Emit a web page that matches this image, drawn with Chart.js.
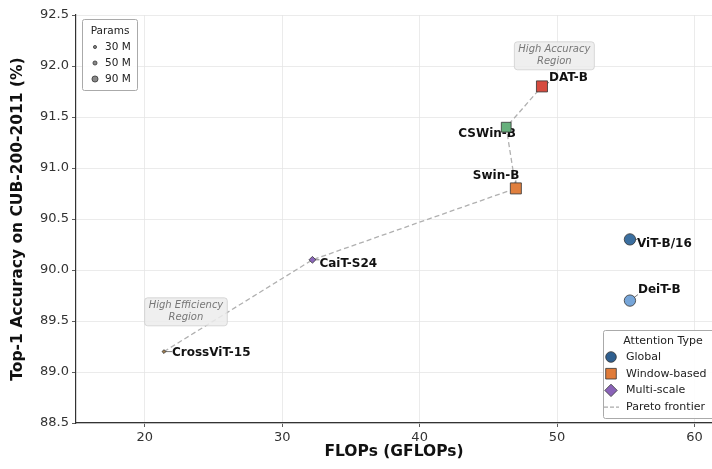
<!DOCTYPE html>
<html>
<head>
<meta charset="utf-8">
<script src="https://cdn.jsdelivr.net/npm/chart.js@4"></script>
<style>
  body { margin: 0; background: #fff; }
  canvas { display: block; }
</style>
</head>
<body>
<canvas id="chart" width="712" height="469"></canvas>
<script>
// data
const models = ["ViT-B/16", "DeiT-B", "Swin-B", "CSWin-B", "DAT-B", "CaiT-S24", "CrossViT-15"];
const flops = [55.3, 55.3, 47.0, 46.3, 48.9, 32.2, 21.4];
const accuracy = [90.3, 89.7, 90.8, 91.4, 91.8, 90.1, 89.2];
const paramsM = [86, 86, 88, 78, 88, 47, 27];
const attnType = ["Global", "Global", "Window-based", "Window-based", "Window-based", "Multi-scale", "Multi-scale"];
const pareto = ["CrossViT-15", "CaiT-S24", "Swin-B", "CSWin-B", "DAT-B"];
const xTicks = [20, 30, 40, 50, 60];
const yTicks = [88.5, 89.0, 89.5, 90.0, 90.5, 91.0, 91.5, 92.0, 92.5];
const paramLegend = [30, 50, 90];
const regions = [
    { lines: ["High Accuracy", "Region"], x: 49.8, y: 92.1 },
    { lines: ["High Efficiency", "Region"], x: 23.0, y: 89.59 }
];

// styles
const FONT = "'DejaVu Sans', sans-serif";
const modelColor = {
    "ViT-B/16": "#3b6fa0", "DeiT-B": "#76a5d8", "Swin-B": "#e07f3e", "CSWin-B": "#66b07c",
    "DAT-B": "#d64b3f", "CaiT-S24": "#8b66bb", "CrossViT-15": "#a07e50"
};
const typeShape = { "Global": "circle", "Window-based": "rect", "Multi-scale": "rectRot" };
const typeColor = { "Global": "#2f5f8f", "Window-based": "#e07b39", "Multi-scale": "#8a63b8" };
// label anchor: offset of text's left edge / middle from the point, in px
const labelOffset = {
    "ViT-B/16": [7, 4], "DeiT-B": [8, -11], "Swin-B": [-43, -13], "CSWin-B": [-48, 7],
    "DAT-B": [7, -9], "CaiT-S24": [7, 4], "CrossViT-15": [8, 1]
};

// r is the half-size of the marker (radius, half side, half diagonal)
function markerRadius(p, shape) {
    const d = p * 0.132;
    if (shape === "rect") return d / 2 * 0.95;
    if (shape === "rectRot") return d * 0.55;
    return d / 2;
}

const shapes = attnType.map(t => typeShape[t]);
const points = models.map((m, i) => ({ x: flops[i], y: accuracy[i] }));
const paretoPts = pareto.map(m => {
    const i = models.indexOf(m);
    return { x: flops[i], y: accuracy[i] };
});

function drawMarker(ctx, shape, x, y, r, fill) {
    ctx.save();
    ctx.fillStyle = fill;
    ctx.strokeStyle = "#333";
    ctx.lineWidth = 0.8;
    ctx.beginPath();
    if (shape === "circle") {
        ctx.arc(x, y, r, 0, Math.PI * 2);
    } else if (shape === "rect") {
        ctx.rect(x - r, y - r, 2 * r, 2 * r);
    } else {
        ctx.moveTo(x - r, y);
        ctx.lineTo(x, y - r);
        ctx.lineTo(x + r, y);
        ctx.lineTo(x, y + r);
        ctx.closePath();
    }
    ctx.fill();
    ctx.stroke();
    ctx.restore();
}

function roundRect(ctx, x, y, w, h, r) {
    ctx.beginPath();
    ctx.moveTo(x + r, y);
    ctx.arcTo(x + w, y, x + w, y + h, r);
    ctx.arcTo(x + w, y + h, x, y + h, r);
    ctx.arcTo(x, y + h, x, y, r);
    ctx.arcTo(x, y, x + w, y, r);
    ctx.closePath();
}

const extras = {
    id: "extras",
    afterDatasetsDraw(chart) {
        const ctx = chart.ctx;
        const xs = chart.scales.x, ys = chart.scales.y;

        // region notes
        ctx.save();
        ctx.font = "italic 10px " + FONT;
        for (const reg of regions) {
            const cx = xs.getPixelForValue(reg.x), cy = ys.getPixelForValue(reg.y);
            const w = Math.max(...reg.lines.map(l => ctx.measureText(l).width)) + 8;
            const h = reg.lines.length * 12 + 4;
            ctx.globalAlpha = 0.85;
            roundRect(ctx, cx - w / 2, cy - h / 2, w, h, 3);
            ctx.fillStyle = "#ececec";
            ctx.fill();
            ctx.strokeStyle = "#c8c8c8";
            ctx.lineWidth = 0.8;
            ctx.stroke();
            ctx.globalAlpha = 1;
            ctx.fillStyle = "#777";
            ctx.textAlign = "center";
            ctx.textBaseline = "middle";
            reg.lines.forEach((l, k) => {
                ctx.fillText(l, cx, cy - h / 2 + 8 + k * 12);
            });
        }
        ctx.restore();

        // point labels with short connectors
        ctx.save();
        ctx.font = "bold 12px " + FONT;
        ctx.textBaseline = "middle";
        ctx.textAlign = "left";
        models.forEach((m, i) => {
            const px = xs.getPixelForValue(flops[i]), py = ys.getPixelForValue(accuracy[i]);
            const [dx, dy] = labelOffset[m];
            const tx = px + dx, ty = py + dy;
            const tw = ctx.measureText(m).width;
            const nx = Math.min(Math.max(px, tx), tx + tw);
            const ny = Math.min(Math.max(py, ty - 5), ty + 5);
            ctx.strokeStyle = "#555";
            ctx.lineWidth = 0.8;
            ctx.beginPath();
            ctx.moveTo(px, py);
            ctx.lineTo(nx, ny);
            ctx.stroke();
            ctx.fillStyle = "#111";
            ctx.fillText(m, tx, ty);
        });
        ctx.restore();

        // redraw markers over connectors
        models.forEach((m, i) => {
            const px = xs.getPixelForValue(flops[i]), py = ys.getPixelForValue(accuracy[i]);
            drawMarker(ctx, shapes[i], px, py, markerRadius(paramsM[i], shapes[i]), modelColor[m]);
        });
    },
    afterDraw(chart) {
        const ctx = chart.ctx;
        ctx.save();
        ctx.textBaseline = "middle";

        // params legend
        ctx.font = "10.5px " + FONT;
        ctx.fillStyle = "rgba(255,255,255,0.9)";
        ctx.strokeStyle = "#aaa";
        ctx.lineWidth = 1;
        roundRect(ctx, 82.5, 19.5, 55, 71, 2);
        ctx.fill();
        ctx.stroke();
        ctx.fillStyle = "#222";
        ctx.textAlign = "center";
        ctx.fillText("Params", 110, 31);
        ctx.textAlign = "left";
        paramLegend.forEach((p, k) => {
            const y = 47 + k * 16;
            drawMarker(ctx, "circle", 95, y, 0.8 + p * 0.025, "#888");
            ctx.fillStyle = "#222";
            ctx.fillText(p + " M", 105, y);
        });

        // attention type legend
        ctx.font = "11px " + FONT;
        ctx.fillStyle = "rgba(255,255,255,0.9)";
        ctx.strokeStyle = "#aaa";
        roundRect(ctx, 603.5, 330.5, 120, 88, 2);
        ctx.fill();
        ctx.stroke();
        ctx.fillStyle = "#222";
        ctx.textAlign = "center";
        ctx.fillText("Attention Type", 663, 341);
        ctx.textAlign = "left";
        const types = Object.keys(typeShape);
        types.forEach((t, k) => {
            const y = 357 + k * 16.7;
            const shape = typeShape[t];
            const r = shape === "rectRot" ? 6.2 : 5.3;
            drawMarker(ctx, shape, 611, y, r, typeColor[t]);
            ctx.fillStyle = "#222";
            ctx.fillText(t, 626, y);
        });
        const ly = 357 + 3 * 16.7;
        ctx.strokeStyle = "#aaa";
        ctx.lineWidth = 1.2;
        ctx.setLineDash([4, 2]);
        ctx.beginPath();
        ctx.moveTo(604, ly);
        ctx.lineTo(619, ly);
        ctx.stroke();
        ctx.setLineDash([]);
        ctx.fillStyle = "#222";
        ctx.fillText("Pareto frontier", 626, ly);
        ctx.restore();
    }
};

new Chart(document.getElementById("chart"), {
    type: "scatter",
    data: {
        datasets: [
            {
                label: "Models",
                data: points,
                pointStyle: shapes,
                pointRadius: 0,
                pointHoverRadius: 0,
                order: 1
            },
            {
                type: "line",
                label: "Pareto frontier",
                data: paretoPts,
                borderColor: "#b0b0b0",
                borderWidth: 1.3,
                borderDash: [5, 3],
                pointRadius: 0,
                fill: false,
                tension: 0,
                order: 2
            }
        ]
    },
    options: {
        responsive: false,
        animation: false,
        layout: { padding: { top: 15, right: 0, bottom: 0, left: 0 } },
        plugins: { legend: { display: false }, tooltip: { enabled: false } },
        scales: {
            x: {
                type: "linear",
                min: 15,
                max: 61.27,
                afterBuildTicks: s => { s.ticks = xTicks.map(v => ({ value: v })); },
                afterFit: s => { s.height = 46; },
                ticks: { font: { family: FONT, size: 13 }, color: "#333", padding: 3 },
                grid: { color: "#e6e6e6", lineWidth: 0.8, borderDash: [2, 2], tickColor: "#333", tickLength: 4, tickBorderDash: [] },
                border: { display: true, color: "#333", width: 1.2 },
                title: { display: true, text: "FLOPs (GFLOPs)", font: { family: FONT, size: 15.5, weight: "bold" }, color: "#111", padding: { top: 4, bottom: 8 } }
            },
            y: {
                type: "linear",
                min: 88.5,
                max: 92.5,
                afterBuildTicks: s => { s.ticks = yTicks.map(v => ({ value: v })); },
                afterFit: s => { s.width = 76; },
                ticks: { font: { family: FONT, size: 13 }, color: "#333", padding: 3, callback: v => v.toFixed(1) },
                grid: { color: "#e6e6e6", lineWidth: 0.8, borderDash: [2, 2], tickColor: "#333", tickLength: 4, tickBorderDash: [] },
                border: { display: true, color: "#333", width: 1.2 },
                title: { display: true, text: "Top-1 Accuracy on CUB-200-2011 (%)", font: { family: FONT, size: 15.5, weight: "bold" }, color: "#111", padding: { top: 9, bottom: 0 } }
            }
        }
    },
    plugins: [extras]
});
</script>
</body>
</html>
